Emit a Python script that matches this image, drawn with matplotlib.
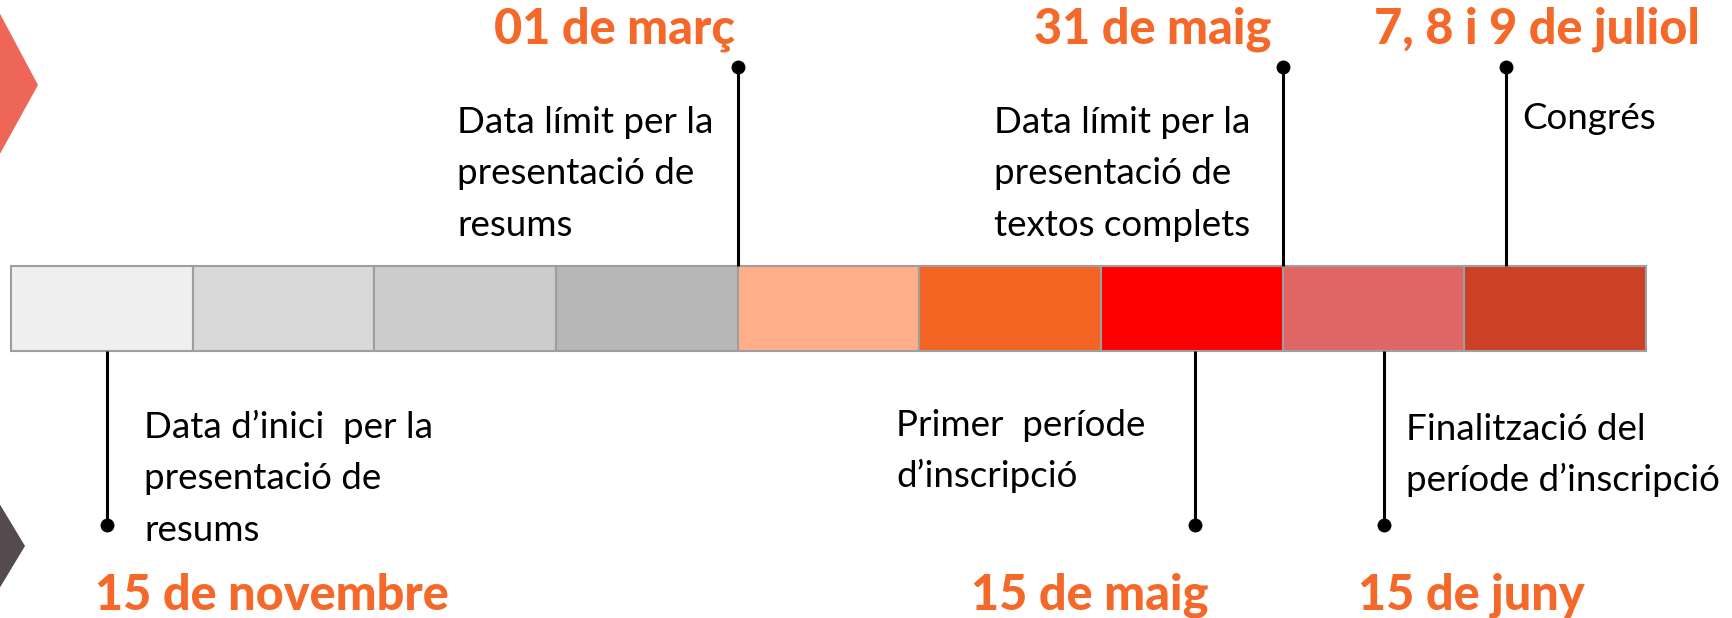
import matplotlib
matplotlib.use("Agg")
import matplotlib.pyplot as plt
from matplotlib.patches import Rectangle, Polygon

plt.rcParams['font.family'] = ['Lato', 'DejaVu Sans']

#------------- data -------------#
seg_colors = ['#efefef', '#d9d9d9', '#cccccc', '#b7b7b7', '#ffae87',
              '#f46524', '#ff0000', '#e06666', '#cc4125']

# milestones: position along the bar (in segment units), side, date, description
ms_pos   = [0.53, 4.0, 6.52, 7.0, 7.56, 8.23]
ms_side  = ['bottom', 'top', 'bottom', 'top', 'bottom', 'top']
ms_date  = ['15 de novembre', '01 de març', '15 de maig', '31 de maig', '15 de juny', '7, 8 i 9 de juliol']
ms_text  = [['Data d’inici  per la', 'presentació de', 'resums'],
            ['Data límit per la', 'presentació de', 'resums'],
            ['Primer  període', 'd’inscripció'],
            ['Data límit per la', 'presentació de', 'textos complets'],
            ['Finalització del', 'període d’inscripció'],
            ['Congrés']]

# layout (pixels)
W, H = 1732, 618
BAR_X0, SEG_W = 11, 181.67
BAR_TOP, BAR_BOT = 266, 351
DOT_TOP, DOT_BOT = 67, 525
LINE_GAP = 51.4
ORANGE = '#f4692a'

# label placements (pixels): date centre x, date baseline y, text left x, text first baseline y
date_cx = [272, 614, 1090, 1153, 1471, 1537]
date_y  = [610, 44, 610, 44, 610, 44]
text_x  = [144, 457, 896, 994, 1406, 1522]
text_y  = [438, 133, 436, 133, 440, 129]

#------------- figure -------------#
fig = plt.figure(figsize=(W/100, H/100), dpi=100)
ax = fig.add_axes([0, 0, 1, 1])
ax.set_xlim(-BAR_X0/SEG_W, (W-BAR_X0)/SEG_W)
ax.set_ylim(H, 0)
ax.axis('off')

def px(x):
    return (x - BAR_X0)/SEG_W

## decorative shapes on the left edge ##
ax.add_patch(Polygon([[px(-10), -5], [px(38), 85], [px(-10), 172]], closed=True,
                     color='#ee6658', lw=0))
ax.add_patch(Polygon([[px(-10), 488], [px(25), 546], [px(-10), 604]], closed=True,
                     color='#554a4d', lw=0))

## bar ##
for i, c in enumerate(seg_colors):
    ax.add_patch(Rectangle((i, BAR_TOP), 1, BAR_BOT-BAR_TOP, facecolor=c,
                           edgecolor='#9e9e9e', lw=1.5, zorder=2))

## milestones ##
for i in range(len(ms_pos)):
    x = ms_pos[i]
    if ms_side[i] == 'top':
        y0, y1, dot_y = DOT_TOP, BAR_TOP, DOT_TOP
    else:
        y0, y1, dot_y = BAR_BOT, DOT_BOT, DOT_BOT
    ax.plot([x, x], [y0, y1], color='black', lw=2.2, zorder=3, solid_capstyle='butt')
    ax.plot(x, dot_y, 'o', color='black', ms=9, zorder=4)

    ax.text(px(date_cx[i]), date_y[i], ms_date[i], color=ORANGE, fontsize=35,
            fontweight='black', ha='center', va='baseline')
    for k, line in enumerate(ms_text[i]):
        ax.text(px(text_x[i]), text_y[i] + k*LINE_GAP, line, color='black',
                fontsize=26.5, ha='left', va='baseline')

fig.savefig('out.png', dpi=100, facecolor='white')
